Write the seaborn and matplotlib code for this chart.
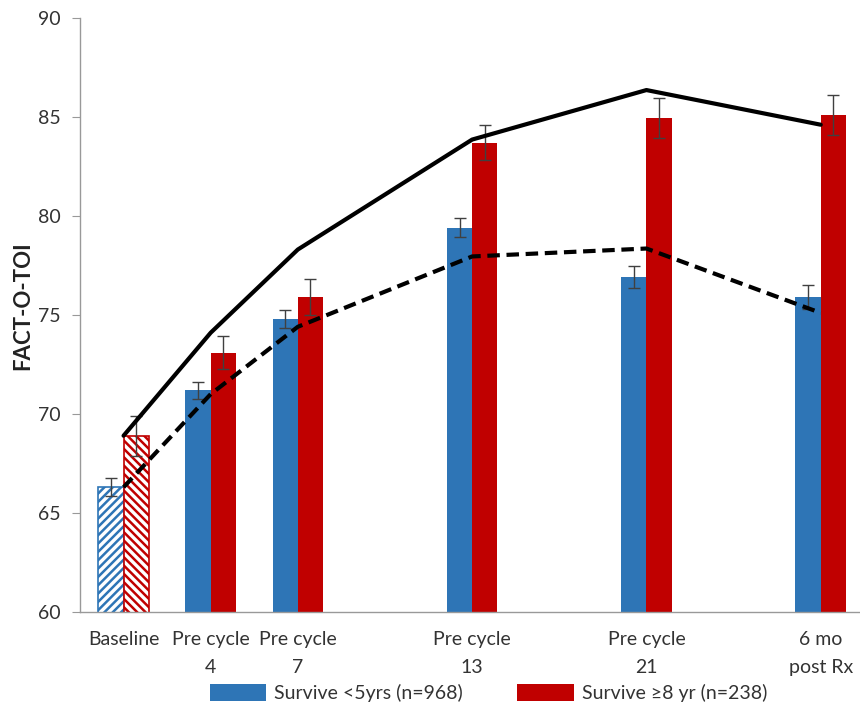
import numpy as np
import pandas as pd
import matplotlib
matplotlib.use("Agg")
import matplotlib.pyplot as plt
from matplotlib.patches import Patch
import seaborn as sns

# time points (slot on a 9-slot category axis, gaps are empty categories)
labels = ["Baseline", "Pre cycle\n4", "Pre cycle\n7", "Pre cycle\n13", "Pre cycle\n21", "6 mo\npost Rx"]
slots = [0, 1, 2, 4, 6, 8]

short_mean = [66.3, 71.2, 74.8, 79.4, 76.9, 75.9]
short_err = [0.45, 0.43, 0.45, 0.47, 0.55, 0.6]
long_mean = [68.9, 73.1, 75.9, 83.7, 84.95, 85.1]
long_err = [1.0, 0.85, 0.9, 0.9, 1.0, 1.0]

# model curves
long_fit = [68.9, 74.1, 78.3, 83.85, 86.35, 84.6]
short_fit = [66.3, 71.0, 74.4, 77.95, 78.35, 75.1]

groups = ["Survive <5yrs (n=968)", "Survive \u22658 yr (n=238)"]
colors = ["#2E75B6", "#C00000"]

df = pd.DataFrame({
    "slot": slots * 2,
    "score": short_mean + long_mean,
    "group": [groups[0]] * len(slots) + [groups[1]] * len(slots),
})

sns.set_style("white")
plt.rcParams["font.family"] = ["Lato", "DejaVu Sans"]
plt.rcParams["hatch.linewidth"] = 1.8

fig = plt.figure(figsize=(8.6, 7.1), dpi=100)
ax = fig.add_axes([0.093, 0.138, 0.912, 0.837])

bw = 0.29
sns.barplot(data=df, x="slot", y="score", hue="group", palette=colors,
            native_scale=True, width=2 * bw, errorbar=None, saturation=1,
            linewidth=0, ax=ax, legend=False)

# hatch the baseline bars
for p in ax.patches:
    cx = p.get_x() + p.get_width() / 2
    if abs(cx - slots[0]) < 0.5:
        col = p.get_facecolor()
        p.set_facecolor("white")
        p.set_edgecolor(col)
        p.set_linewidth(1.2)
        p.set_hatch("////" if cx < slots[0] else "\\\\\\\\")

x = np.array(slots)
ax.errorbar(x - bw / 2, short_mean, yerr=short_err, fmt="none", ecolor="#404040",
            elinewidth=1, capsize=4, capthick=1, zorder=4)
ax.errorbar(x + bw / 2, long_mean, yerr=long_err, fmt="none", ecolor="#404040",
            elinewidth=1, capsize=4, capthick=1, zorder=4)

sns.lineplot(x=slots, y=long_fit, color="black", lw=3, ax=ax, zorder=5)
ax.plot(slots, short_fit, color="black", lw=3, ls=(0, (3, 1.6)), zorder=5)

ax.set_xlim(-0.5, 8.5)
ax.set_ylim(60, 90)
ax.set_yticks(range(60, 91, 5))
ax.set_xticks(np.arange(-0.5, 9, 1))
ax.set_xticklabels([])
ax.set_xticks(slots, labels, minor=True, linespacing=1.75)
ax.tick_params(axis="x", which="minor", length=0, pad=14, labelsize=14, labelcolor="#333333")
ax.tick_params(axis="x", which="major", length=5, color="#999999", direction="out")
ax.tick_params(axis="y", length=6, color="#999999", direction="out", labelsize=14,
               labelcolor="#333333", left=True, pad=8)

ax.set_xlabel("")
ax.set_ylabel("FACT-O-TOI", fontsize=16, fontweight="bold", color="#222222")
ax.yaxis.set_label_coords(-0.06, 0.515)
sns.despine(ax=ax)
for s in ["left", "bottom"]:
    ax.spines[s].set_color("#999999")
    ax.spines[s].set_linewidth(1)

handles = [Patch(facecolor=c, edgecolor="none") for c in colors]
fig.legend(handles, groups, loc="center", bbox_to_anchor=(0.568, 0.024), ncol=2,
           frameon=False, fontsize=14, handlelength=2.9, handleheight=1.0,
           handletextpad=0.4, columnspacing=2.8, labelcolor="#333333")

fig.savefig("out.png", dpi=100, facecolor="white")
